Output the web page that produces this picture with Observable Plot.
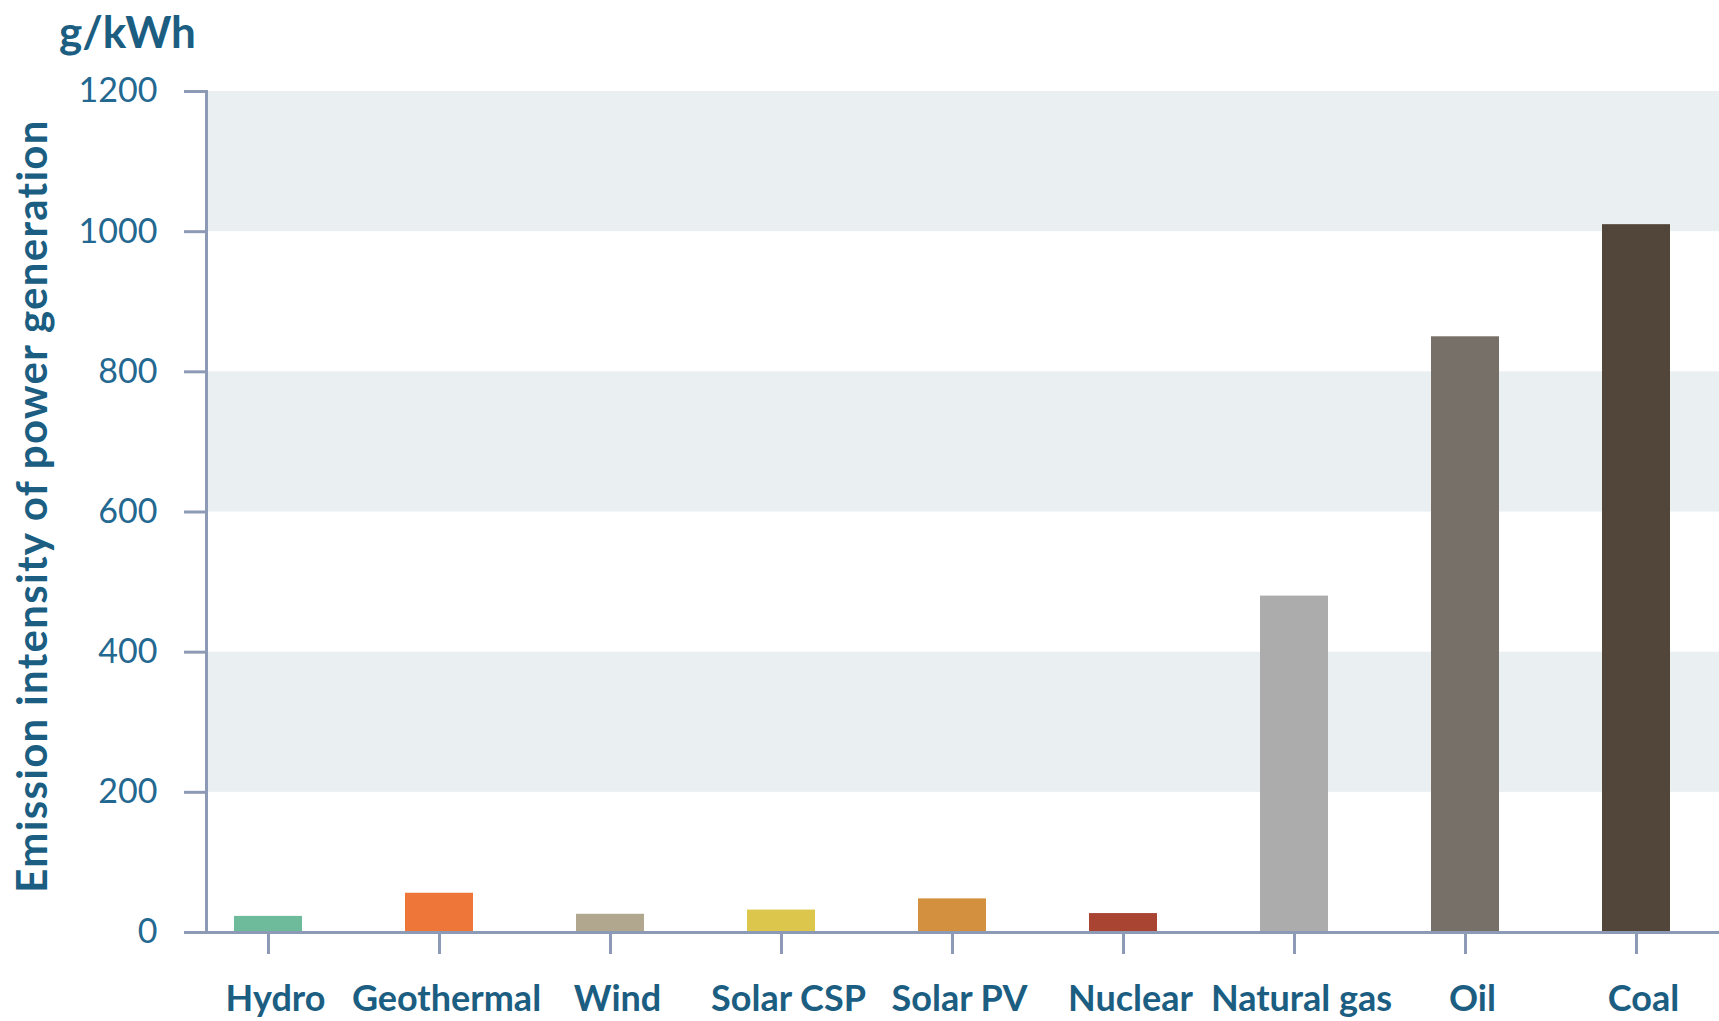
<!DOCTYPE html>
<html><head><meta charset="utf-8">
<script src="https://cdn.jsdelivr.net/npm/d3@7"></script>
<script src="https://cdn.jsdelivr.net/npm/@observablehq/plot@0.6"></script>
<style>
body{margin:0;background:#fff;font-family:Lato,sans-serif;}
#title{height:62px;line-height:62px;font-size:44px;font-weight:700;color:#1b5e82;padding-left:59px;}
#chart svg{display:block;}
#chart svg g[aria-label="text"] text{letter-spacing:1.3px;}
</style></head><body>
<div id="title"></div>
<div id="chart"></div>
<script>
const categories = ["Hydro","Geothermal","Wind","Solar CSP","Solar PV","Nuclear","Natural gas","Oil","Coal"];
const emissions = [23,56,26,32,48,27,480,850,1010];
const barColors = ["#6dbb9b","#ee7639","#b1a78f","#dcc64b","#d3913f","#a94433","#acacac","#767069","#524539"];
const yTicks = [0,200,400,600,800,1000,1200];
const shadedBands = [[200,400],[600,800],[1000,1200]];
const yLabel = "Emission intensity of power generation";
const unitLabel = "g/kWh";

document.getElementById("title").textContent = unitLabel;
const data = categories.map((c,i)=>({category:c, value:emissions[i], color:barColors[i]}));
const axisColor = "#8d9ab5";
const chart = Plot.plot({
  width:1719, height:959, marginTop:29, marginBottom:89, marginLeft:206, marginRight:0,
  style:{fontFamily:"Lato, sans-serif", background:"#fff"},
  x:{domain:categories, paddingInner:0.6, paddingOuter:0.22, align:0.36, label:null, axis:null},
  y:{domain:[0,1200], label:null, axis:null},
  marks:[
    Plot.rect(shadedBands, {y1:d=>d[0], y2:d=>d[1], fill:"#eaeff2"}),
    Plot.barY(data, {x:"category", y:"value", fill:"color"}),
    Plot.frame({anchor:"left", stroke:axisColor, strokeWidth:3}),
    Plot.ruleY([0], {stroke:axisColor, strokeWidth:3, insetLeft:-22}),
    Plot.axisY({ticks:yTicks, tickSize:22, tickPadding:27, stroke:axisColor, strokeWidth:3,
      fontSize:34, fontWeight:400, fill:"#236890", tickFormat:d=>String(d), label:null}),
    Plot.axisX({tickSize:22, stroke:axisColor, strokeWidth:3, fill:"none", label:null}),
    Plot.axisX({tickSize:0, tickPadding:53, stroke:"none", fill:"#1b5e82", fontSize:36, fontWeight:700, dx:7, label:null}),
    Plot.text([yLabel], {frameAnchor:"left", textAnchor:"middle", rotate:-90, dx:-173, dy:-6, fontSize:42, fontWeight:700, fill:"#1b5e82"})
  ]
});
document.getElementById("chart").appendChild(chart);
</script>
</body></html>
